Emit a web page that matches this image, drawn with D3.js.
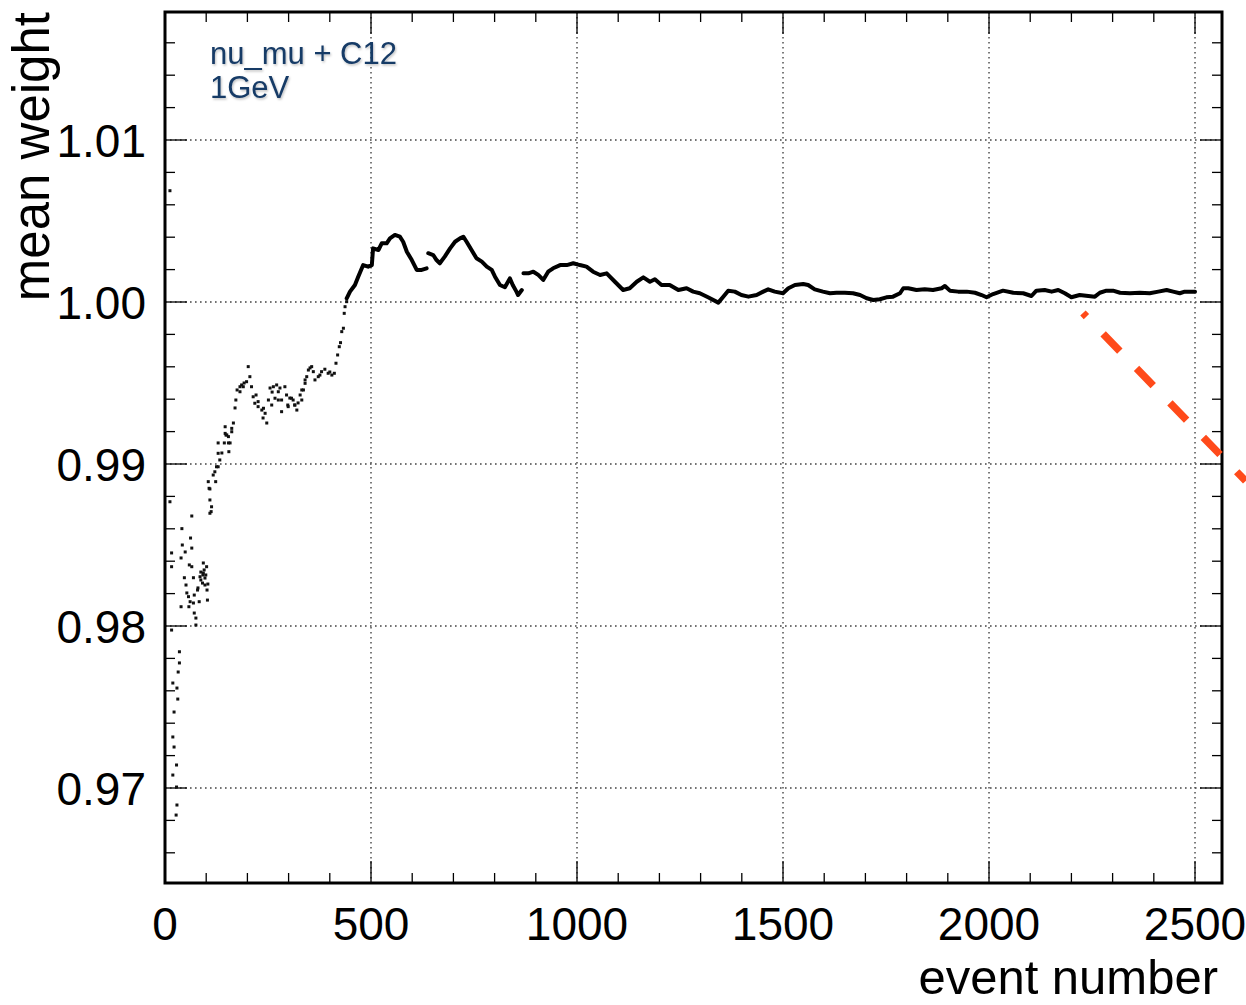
<!DOCTYPE html>
<html>
<head>
<meta charset="utf-8">
<script src="https://cdnjs.cloudflare.com/ajax/libs/d3/7.8.5/d3.min.js"></script>
<style>
  html, body { margin: 0; padding: 0; background: #fff; }
  svg { display: block; font-family: "Liberation Sans", Arial, Helvetica, sans-serif; }
</style>
</head>
<body>
<svg id="chart" width="1246" height="1005"></svg>
<script>
// Running mean weight vs. event number (nu_mu + C12, 1 GeV)

// early, sparse part of the running mean (drawn as single markers)
const scatterEvents = [
  12, 16, 35, 35, 32, 19, 29, 31, 22, 19, 22, 28, 19, 28, 29, 27,
  12, 16, 65, 41, 62, 42, 49, 65, 39, 59, 65, 47, 69, 51, 93, 93, 85, 97, 101, 91, 104, 103,
  79, 71, 83, 57, 39, 58, 69, 61, 71, 75, 75, 53, 95, 87, 99,
  92, 97, 80, 87, 102, 16,
  109, 113, 112, 109, 105,
  117, 123, 129, 133, 138, 144, 148, 154, 158, 155, 162, 166, 170, 172, 175, 182, 186, 192,
  129, 129, 125, 121, 107, 109, 146, 154, 146, 150, 162,
  198, 202, 206, 210, 214, 218, 226, 235, 243, 247, 251, 255, 263, 271, 275, 283, 283, 291,
  295, 303, 311, 320, 323, 332, 336, 340, 348, 356, 360, 364, 372, 380, 388, 396, 405, 411,
  415, 419, 423, 426, 429, 433, 435, 437, 441,
  221, 238, 260, 298, 315, 328, 279, 352, 376, 400,
  259, 267, 275, 299, 307, 315, 226, 239, 190, 182, 332, 340, 344
];
const scatterWeights = [
  1.00687, 0.97975, 0.97841, 0.97772, 0.97716, 0.97648, 0.97617, 0.97549, 0.97469, 0.97315, 0.97253, 0.97142, 0.97080, 0.97006, 0.96895, 0.96833,
  0.98767, 0.98451, 0.98679, 0.98601, 0.98543, 0.98500, 0.98457, 0.98481, 0.98420, 0.98377, 0.98366, 0.98298, 0.98298, 0.98253, 0.98389, 0.98327, 0.98304, 0.98296, 0.98366, 0.98265, 0.98259, 0.98160,
  0.98222, 0.98191, 0.98150, 0.98181, 0.98119, 0.98119, 0.98142, 0.98150, 0.98080, 0.98049, 0.98006, 0.98204, 0.98346, 0.98333, 0.98315,
  0.98315, 0.98253, 0.98235, 0.98284, 0.98222, 0.98366,
  0.98778, 0.98736, 0.98706, 0.98846, 0.98891,
  0.98932, 0.98891, 0.98983, 0.99025, 0.99068, 0.99130, 0.99179, 0.99169, 0.99130, 0.99076, 0.99199, 0.99253, 0.99346, 0.99395, 0.99457, 0.99477, 0.99488, 0.99500,
  0.99130, 0.99066, 0.98983, 0.98952, 0.98850, 0.98696, 0.99189, 0.99130, 0.99230, 0.99179, 0.99220,
  0.99508, 0.99601, 0.99539, 0.99477, 0.99415, 0.99375, 0.99354, 0.99333, 0.99313, 0.99253, 0.99395, 0.99469, 0.99477, 0.99488, 0.99446, 0.99395, 0.99323, 0.99477,
  0.99426, 0.99407, 0.99395, 0.99333, 0.99377, 0.99395, 0.99457, 0.99519, 0.99580, 0.99601, 0.99570, 0.99519, 0.99539, 0.99570, 0.99585, 0.99560, 0.99549, 0.99560,
  0.99622, 0.99673, 0.99724, 0.99749, 0.99817, 0.99838, 0.99930, 0.99971, 1.00002,
  0.99426, 0.99284, 0.99444, 0.99364, 0.99364, 0.99426, 0.99469, 0.99593, 0.99549, 0.99568,
  0.99364, 0.99406, 0.99395, 0.99354, 0.99406, 0.99364, 0.99385, 0.99344, 0.99477, 0.99446, 0.99457, 0.99498, 0.99539
];

// later, dense part of the running mean (markers merge into a continuous trace)
const traceEvents = [
  441, 449, 461, 469, 481, 493, 502, 505, 518, 526, 538, 546, 558, 570, 578, 587, 599, 611, 623, 635,
  639, 651, 659, 667, 679, 692, 704, 716, 724, 732, 744, 756, 769, 781, 793, 801, 813, 825, 837, 844, 853, 857, 866,
  870, 882, 894, 906, 918, 930, 942, 959, 975, 991, 1007, 1023, 1039, 1056, 1072, 1092, 1112, 1128, 1145, 1161,
  1177, 1189, 1205, 1225, 1246, 1266, 1282, 1298, 1318, 1343, 1355, 1367, 1383, 1399, 1416, 1436, 1452, 1464,
  1480, 1500, 1513, 1529, 1549, 1561, 1577, 1597, 1614, 1630, 1650, 1670, 1687, 1703, 1719, 1735, 1751, 1767,
  1784, 1792, 1804, 1824, 1844, 1864, 1885, 1893, 1905, 1925, 1946, 1966, 1982, 1994, 2010, 2034, 2059, 2083,
  2103, 2115, 2135, 2152, 2168, 2184, 2200, 2220, 2241, 2257, 2269, 2285, 2301, 2318, 2342, 2366, 2390, 2411,
  2431, 2447, 2463, 2475, 2487, 2500
];
const traceWeights = [
  1.00023, 1.00064, 1.00105, 1.00156, 1.00228, 1.00218, 1.00228, 1.00331, 1.00321, 1.00362, 1.00362, 1.00393, 1.00414, 1.00403, 1.00372, 1.00310, 1.00259, 1.00198, 1.00198, 1.00208,
  1.00301, 1.00290, 1.00259, 1.00239, 1.00280, 1.00331, 1.00372, 1.00393, 1.00403, 1.00372, 1.00321, 1.00270, 1.00249, 1.00218, 1.00198, 1.00156, 1.00105, 1.00091, 1.00146, 1.00105, 1.00064, 1.00043, 1.00074,
  1.00177, 1.00177, 1.00187, 1.00167, 1.00136, 1.00187, 1.00208, 1.00228, 1.00228, 1.00239, 1.00228, 1.00218, 1.00187, 1.00167, 1.00177, 1.00125, 1.00074, 1.00085, 1.00125, 1.00152,
  1.00125, 1.00140, 1.00105, 1.00105, 1.00074, 1.00085, 1.00064, 1.00054, 1.00029, 0.99996, 1.00033, 1.00070, 1.00064, 1.00043, 1.00033, 1.00043, 1.00064, 1.00078,
  1.00064, 1.00054, 1.00085, 1.00105, 1.00111, 1.00105, 1.00078, 1.00064, 1.00054, 1.00057, 1.00057, 1.00054, 1.00043, 1.00023, 1.00012, 1.00017, 1.00029, 1.00033,
  1.00054, 1.00085, 1.00085, 1.00074, 1.00078, 1.00074, 1.00085, 1.00099, 1.00070, 1.00064, 1.00064, 1.00057, 1.00043, 1.00029, 1.00049, 1.00070, 1.00057, 1.00054,
  1.00037, 1.00070, 1.00074, 1.00064, 1.00074, 1.00054, 1.00029, 1.00043, 1.00037, 1.00033, 1.00057, 1.00070, 1.00070, 1.00057, 1.00054, 1.00057, 1.00054, 1.00064,
  1.00074, 1.00064, 1.00054, 1.00064, 1.00064, 1.00064
];
// the trace has small gaps after these events
const traceBreaks = [635, 866];

// dashed guide drawn across the right edge
const guideEvents = [2228, 2623];
const guideWeights = [0.99932, 0.98895];

// axis ticks
const xTickValues = [0, 500, 1000, 1500, 2000, 2500];
const xTickLabels = ["0", "500", "1000", "1500", "2000", "2500"];
const yTickValues = [0.97, 0.98, 0.99, 1.00, 1.01];
const yTickLabels = ["0.97", "0.98", "0.99", "1.00", "1.01"];

const svg = d3.select("#chart");
const plotLeft = 165, plotRight = 1222, plotTop = 12, plotBottom = 883;

const x = d3.scaleLinear().domain([0, 2565.5]).range([plotLeft, plotRight]);
const y = d3.scaleLinear().domain([0.964136, 1.017901]).range([plotBottom, plotTop]);

// dotted grid at major ticks
const grid = svg.append("g").attr("stroke", "#444").attr("stroke-width", 1.4)
  .attr("stroke-dasharray", "1.6,3.4");
grid.selectAll("line.gx").data(xTickValues.filter(v => v > 0)).join("line")
  .attr("x1", d => x(d)).attr("x2", d => x(d)).attr("y1", plotTop).attr("y2", plotBottom);
grid.selectAll("line.gy").data(yTickValues).join("line")
  .attr("y1", d => y(d)).attr("y2", d => y(d)).attr("x1", plotLeft).attr("x2", plotRight);

// ticks on all four sides, pointing inward
const xMinor = d3.range(0, 2566, 100);
const yMinor = d3.range(0.966, 1.0179, 0.002);
const ticks = svg.append("g").attr("stroke", "#000").attr("stroke-width", 1.3);
function isMajorX(v) { return Math.abs(v % 500) < 1e-6; }
function isMajorY(v) { return yTickValues.some(t => Math.abs(t - v) < 1e-6); }
xMinor.forEach(v => {
  const len = isMajorX(v) ? 22 : 10;
  ticks.append("line").attr("x1", x(v)).attr("x2", x(v)).attr("y1", plotBottom).attr("y2", plotBottom - len);
  ticks.append("line").attr("x1", x(v)).attr("x2", x(v)).attr("y1", plotTop).attr("y2", plotTop + len);
});
yMinor.forEach(v => {
  const len = isMajorY(v) ? 22 : 10;
  ticks.append("line").attr("y1", y(v)).attr("y2", y(v)).attr("x1", plotLeft).attr("x2", plotLeft + len);
  ticks.append("line").attr("y1", y(v)).attr("y2", y(v)).attr("x1", plotRight).attr("x2", plotRight - len);
});

// frame
svg.append("rect").attr("x", plotLeft).attr("y", plotTop)
  .attr("width", plotRight - plotLeft).attr("height", plotBottom - plotTop)
  .attr("fill", "none").attr("stroke", "#000").attr("stroke-width", 3);

// early markers
svg.append("g").selectAll("rect").data(scatterEvents.map((e, i) => [e, scatterWeights[i]])).join("rect")
  .attr("x", d => x(d[0]) - 1.5).attr("y", d => y(d[1]) - 1.5)
  .attr("width", 3).attr("height", 3).attr("fill", "#111");

// dense trace, split at the gaps
const segments = [];
let current = [];
traceEvents.forEach((e, i) => {
  current.push([e, traceWeights[i]]);
  if (traceBreaks.includes(e)) { segments.push(current); current = []; }
});
if (current.length) segments.push(current);
const line = d3.line().x(d => x(d[0])).y(d => y(d[1])).curve(d3.curveLinear);
svg.append("g").selectAll("path").data(segments).join("path")
  .attr("d", line).attr("fill", "none").attr("stroke", "#000")
  .attr("stroke-width", 4).attr("stroke-linejoin", "round").attr("stroke-linecap", "round");

// orange dashed guide
svg.append("path")
  .attr("d", d3.line()([[x(guideEvents[0]), y(guideWeights[0])], [x(guideEvents[1]), y(guideWeights[1])]]))
  .attr("stroke", "#ff4a1a").attr("stroke-width", 7.5).attr("fill", "none")
  .attr("stroke-dasharray", "24,24").attr("stroke-dashoffset", 19);

// tick labels
svg.append("g").selectAll("text").data(xTickValues).join("text")
  .attr("x", d => x(d)).attr("y", 940).attr("text-anchor", "middle")
  .attr("font-size", 46).attr("fill", "#000")
  .text((d, i) => xTickLabels[i]);
svg.append("g").selectAll("text").data(yTickValues).join("text")
  .attr("x", 146).attr("y", d => y(d)).attr("dy", "0.36em").attr("text-anchor", "end")
  .attr("font-size", 46).attr("fill", "#000")
  .text((d, i) => yTickLabels[i]);

// axis titles
svg.append("text").attr("x", 1218).attr("y", 994).attr("text-anchor", "end")
  .attr("font-size", 49).attr("fill", "#000").text("event number");
svg.append("text").attr("transform", "translate(49,12) rotate(-90)")
  .attr("text-anchor", "end").attr("font-size", 51).attr("fill", "#000").text("mean weight");

// sample label
const defs = svg.append("defs");
const f = defs.append("filter").attr("id", "soft").attr("x", "-10%").attr("y", "-20%").attr("width", "130%").attr("height", "150%");
f.append("feDropShadow").attr("dx", 1).attr("dy", 1.5).attr("stdDeviation", 1.2).attr("flood-color", "#000").attr("flood-opacity", 0.25);
const lbl = svg.append("g").attr("fill", "#153a66").attr("font-size", 31).attr("filter", "url(#soft)");
lbl.append("text").attr("x", 210).attr("y", 64).text("nu_mu + C12");
lbl.append("text").attr("x", 210).attr("y", 98).text("1GeV");
</script>
</body>
</html>
